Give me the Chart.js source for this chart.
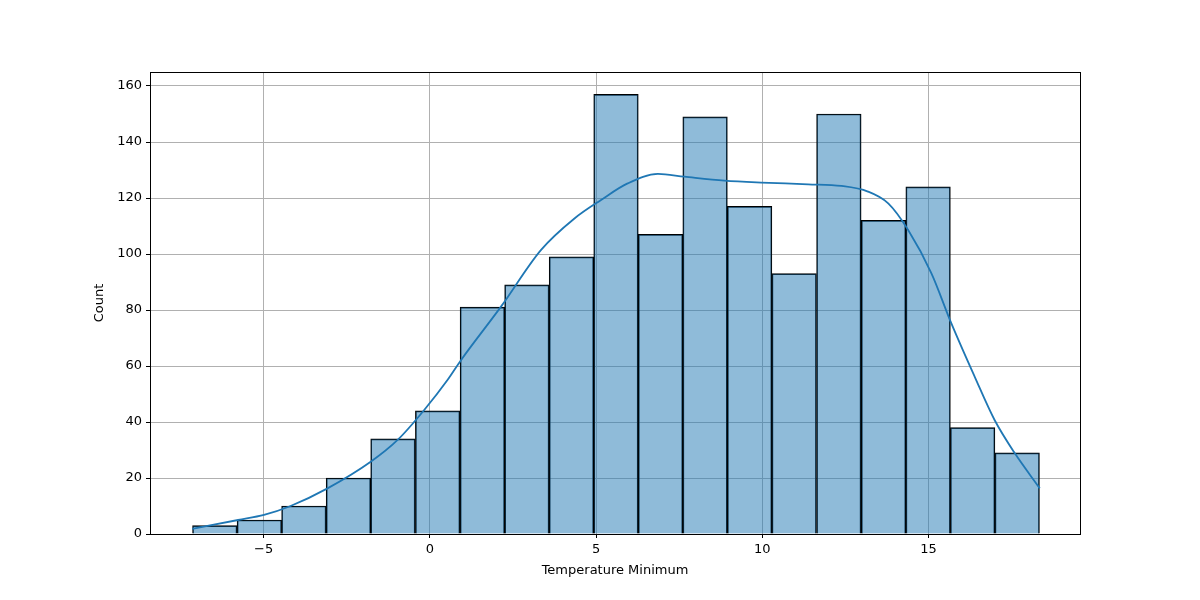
<!DOCTYPE html>
<html>
<head>
<meta charset="utf-8">
<script src="https://cdn.jsdelivr.net/npm/chart.js@4/dist/chart.umd.min.js"></script>
<style>
  html, body { margin: 0; padding: 0; background: #fff; }
  #wrap { width: 1200px; height: 600px; }
</style>
</head>
<body>
<div id="wrap"><canvas id="chart" width="1200" height="600"></canvas></div>
<script>
// histogram bins (edges) and counts
const binEdges = [-7.14, -5.80, -4.46, -3.12, -1.78, -0.44, 0.91, 2.25, 3.59, 4.93,
                  6.27, 7.61, 8.95, 10.29, 11.63, 12.98, 14.32, 15.66, 17.00, 18.34];
const counts = [3, 5, 10, 20, 34, 44, 81, 89, 99, 157, 107, 149, 117, 93, 150, 112, 124, 38, 29];

// kde curve
const kdeX = [-7.15, -5.77, -4.99, -4.19, -3.08, -1.78, -0.97, -0.17, 0.53, 0.93, 2.14, 3.34,
              4.35, 5.15, 5.95, 6.86, 7.66, 8.86, 9.97, 11.38, 12.38, 13.18, 13.79, 14.39,
              15.09, 15.69, 16.39, 16.99, 17.60, 18.35];
const kdeY = [1.8, 5.0, 6.8, 10, 16.3, 25.8, 33.6, 44.3, 55, 62, 81.2, 101.4,
              112.7, 119.3, 125.2, 128.6, 127.6, 126.2, 125.5, 124.9, 124.3, 122.3, 118.1, 108.6,
              93.1, 75.2, 56.2, 40.7, 28.8, 16.3];

const xTicks = [-5, 0, 5, 10, 15];
const yTicks = [0, 20, 40, 60, 80, 100, 120, 140, 160];

const barData = counts.map((c, i) => ({ x: (binEdges[i] + binEdges[i + 1]) / 2, y: c }));
const kdeData = kdeX.map((x, i) => ({ x: x, y: kdeY[i] }));

const frame = {
  id: 'frame',
  afterDraw(chart) {
    const a = chart.chartArea, ctx = chart.ctx;
    ctx.save();
    ctx.strokeStyle = '#000';
    ctx.lineWidth = 1;
    ctx.strokeRect(Math.round(a.left) + 0.5, Math.round(a.top) + 0.5,
                   Math.round(a.right - a.left), Math.round(a.bottom - a.top));
    ctx.restore();
  }
};

const font = { family: 'DejaVu Sans', size: 13 };

new Chart(document.getElementById('chart'), {
  type: 'bar',
  data: {
    datasets: [{
      type: 'line',
      data: kdeData,
      borderColor: '#1f77b4',
      borderWidth: 1.8,
      pointRadius: 0,
      cubicInterpolationMode: 'monotone',
      fill: false,
      order: 0
    }, {
      type: 'bar',
      data: barData,
      backgroundColor: 'rgba(31,119,180,0.5)',
      borderColor: '#000',
      borderWidth: 1,
      barPercentage: 1,
      categoryPercentage: 1,
      order: 1
    }]
  },
  options: {
    responsive: false,
    animation: false,
    layout: { padding: { top: 72, right: 120, left: 92, bottom: 18 } },
    plugins: { legend: { display: false }, tooltip: { enabled: false } },
    scales: {
      x: {
        type: 'linear',
        min: -8.42, max: 19.56,
        offset: false,
        afterBuildTicks: s => { s.ticks = xTicks.map(v => ({ value: v })); },
        afterFit: s => { s.height = 48; },
        ticks: { color: '#000', font: font, padding: 4, callback: v => v < 0 ? '\u2212' + Math.abs(v) : v },
        grid: { color: '#b0b0b0', lineWidth: 1, tickColor: '#000', tickLength: 4, offset: false },
        border: { display: false },
        title: { display: true, text: 'Temperature Minimum', color: '#000', font: font, padding: { top: 4 } }
      },
      y: {
        min: 0, max: 165,
        afterBuildTicks: s => { s.ticks = yTicks.map(v => ({ value: v })); },
        afterFit: s => { s.width = 58; },
        ticks: { color: '#000', font: font, padding: 4 },
        grid: { color: '#b0b0b0', lineWidth: 1, tickColor: '#000', tickLength: 4 },
        border: { display: false },
        title: { display: true, text: 'Count', color: '#000', font: font, padding: 0 }
      }
    }
  },
  plugins: [frame]
});
</script>
</body>
</html>
